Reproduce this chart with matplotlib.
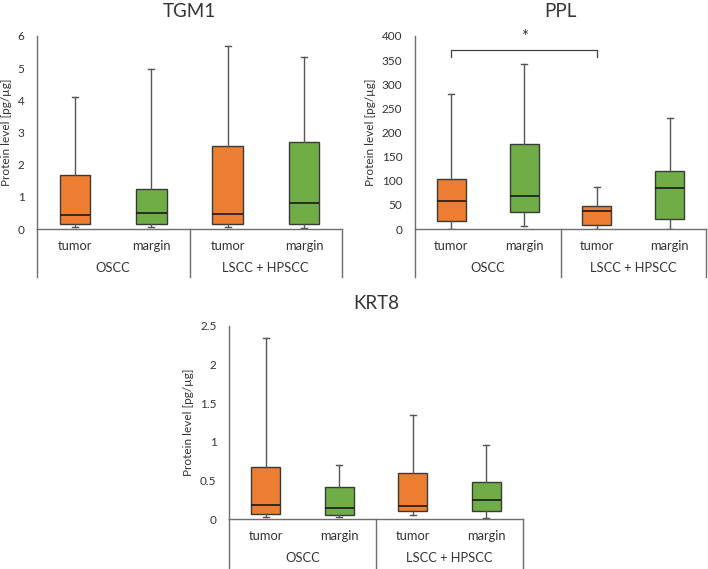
import matplotlib.pyplot as plt

plt.rcParams.update({
    "font.family": ["Lato", "DejaVu Sans"],
    "text.color": "#333333",
    "axes.labelcolor": "#333333",
    "xtick.color": "#333333",
    "ytick.color": "#333333",
})

# five-number summaries: low whisker, Q1, median, Q3, high whisker
groups = ["OSCC", "LSCC + HPSCC"]
tissues = ["tumor", "margin"]

tgm1_low = [0.06, 0.07, 0.07, 0.03]
tgm1_q1 = [0.15, 0.17, 0.15, 0.17]
tgm1_med = [0.45, 0.49, 0.48, 0.80]
tgm1_q3 = [1.67, 1.24, 2.57, 2.72]
tgm1_high = [4.11, 4.96, 5.69, 5.34]

ppl_low = [0, 7, 0, 1]
ppl_q1 = [17, 35, 8, 20]
ppl_med = [59, 68, 37, 86]
ppl_q3 = [104, 176, 48, 121]
ppl_high = [280, 341, 88, 230]

krt8_low = [0.02, 0.03, 0.05, 0.01]
krt8_q1 = [0.06, 0.056, 0.11, 0.10]
krt8_med = [0.18, 0.14, 0.17, 0.24]
krt8_q3 = [0.675, 0.42, 0.59, 0.48]
krt8_high = [2.34, 0.70, 1.35, 0.96]

ORANGE = "#ED7D31"
GREEN = "#70AD47"
LINE = "#6e6e6e"

W, H = 708, 569
fig = plt.figure(figsize=(W / 100, H / 100), dpi=100)


def make_axes(left, right, top, bottom):
    return fig.add_axes([left / W, (H - bottom) / H, (right - left) / W, (bottom - top) / H])


def draw_panel(ax, title, low, q1, med, q3, high, ymax, step, drop, title_pad, ticklabels=None):
    stats = []
    for i in range(4):
        stats.append({"whislo": low[i], "q1": q1[i], "med": med[i], "q3": q3[i], "whishi": high[i]})
    pos = [1, 2, 3, 4]
    bp = ax.bxp(stats, positions=pos, widths=0.4, patch_artist=True, showfliers=False,
                boxprops=dict(edgecolor="#3a3a3a", linewidth=1.0),
                medianprops=dict(color="#1a1a1a", linewidth=1.2),
                whiskerprops=dict(color="#555555", linewidth=1.0),
                capprops=dict(color="#555555", linewidth=1.0),
                capwidths=0.08)
    for i, box in enumerate(bp["boxes"]):
        box.set_facecolor(ORANGE if i % 2 == 0 else GREEN)

    ax.set_xlim(0.5, 4.5)
    ax.set_ylim(0, ymax)
    ticks = [step * k for k in range(int(round(ymax / step)) + 1)]
    ax.set_yticks(ticks)
    if ticklabels is not None:
        ax.set_yticklabels(ticklabels)
    ax.tick_params(axis="y", length=0, labelsize=8.5, pad=9)
    ax.set_xticks([])
    for s in ["top", "right"]:
        ax.spines[s].set_visible(False)
    for s in ["left", "bottom"]:
        ax.spines[s].set_color(LINE)
        ax.spines[s].set_linewidth(1.0)
    ax.set_ylabel("Protein level [pg/µg]", fontsize=8.5, labelpad=4)
    ax.set_title(title, fontsize=13.5, pad=title_pad)

    # two-level category axis
    for x in [0, 0.5, 1]:
        ax.plot([x, x], [0, -drop], transform=ax.transAxes, color=LINE, lw=1.0, clip_on=False)
    for i, p in enumerate(pos):
        ax.text((p - 0.5) / 4, -0.09, tissues[i % 2], transform=ax.transAxes,
                ha="center", va="center", fontsize=9.3)
    for j, g in enumerate(groups):
        ax.text(0.25 + 0.5 * j, -0.2, g, transform=ax.transAxes,
                ha="center", va="center", fontsize=9.3)


ax1 = make_axes(37, 342, 36, 229)
draw_panel(ax1, "TGM1", tgm1_low, tgm1_q1, tgm1_med, tgm1_q3, tgm1_high, 6, 1, 0.249, 14)

ax2 = make_axes(415, 706, 36, 229)
draw_panel(ax2, "PPL", ppl_low, ppl_q1, ppl_med, ppl_q3, ppl_high, 400, 50, 0.249, 14)
# significance bracket between the two tumor groups
ax2.plot([1, 1, 3, 3], [357, 371, 371, 357], color="#404040", lw=0.9, clip_on=False)
ax2.text(2, 398, "*", ha="center", va="center", fontsize=12, clip_on=False)

ax3 = make_axes(229, 523, 326, 519)
draw_panel(ax3, "KRT8", krt8_low, krt8_q1, krt8_med, krt8_q3, krt8_high, 2.5, 0.5, 0.26, 12,
           ticklabels=["0", "0.5", "1", "1.5", "2", "2.5"])

fig.savefig("out.png", dpi=100)
